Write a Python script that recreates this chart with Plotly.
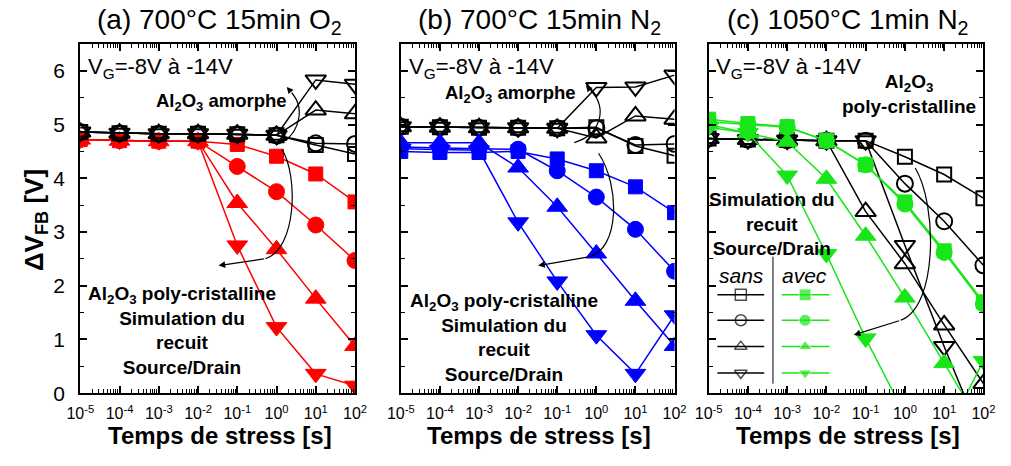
import plotly.graph_objects as go

W, H = 1011, 466

# ---------------- data ----------------
t = [1e-5, 1e-4, 1e-3, 1e-2, 1e-1, 1, 10, 100]
tick_vals = [1e-5, 1e-4, 1e-3, 1e-2, 1e-1, 1, 10, 100]
tick_text = ["10<sup>-5</sup>", "10<sup>-4</sup>", "10<sup>-3</sup>", "10<sup>-2</sup>",
             "10<sup>-1</sup>", "10<sup>0</sup>", "10<sup>1</sup>", "10<sup>2</sup>"]
y_ticks = [0, 1, 2, 3, 4, 5, 6]

panel_titles = ["(a) 700°C 15min O<sub>2</sub>", "(b) 700°C 15min N<sub>2</sub>",
                "(c) 1050°C 1min N<sub>2</sub>"]

# panel (a) 700°C 15min O2
a_sans_sq = [4.86, 4.84, 4.83, 4.83, 4.82, 4.80, 4.62, 4.45]
a_sans_ci = [4.86, 4.84, 4.83, 4.83, 4.82, 4.80, 4.65, 4.64]
a_sans_up = [4.86, 4.84, 4.83, 4.83, 4.82, 4.80, 5.27, 5.20]
a_sans_dn = [4.86, 4.84, 4.83, 4.83, 4.82, 4.80, 5.83, 5.75]
a_avec_sq = [4.72, 4.70, 4.69, 4.69, 4.63, 4.41, 4.08, 3.56]
a_avec_ci = [4.72, 4.70, 4.69, 4.69, 4.22, 3.75, 3.13, 2.47]
a_avec_up = [4.72, 4.70, 4.69, 4.69, 3.54, 2.68, 1.76, 0.88]
a_avec_dn = [4.72, 4.70, 4.69, 4.69, 2.75, 1.23, 0.36, 0.14]

# panel (b) 700°C 15min N2
b_sans_sq = [4.96, 4.95, 4.94, 4.94, 4.93, 4.95, 4.60, 4.42]
b_sans_ci = [4.96, 4.95, 4.94, 4.94, 4.93, 4.93, 4.62, 4.64]
b_sans_up = [4.96, 4.95, 4.94, 4.94, 4.93, 4.75, 5.16, 5.10]
b_sans_dn = [4.96, 4.95, 4.94, 4.94, 4.93, 5.69, 5.70, 5.92]
b_avec_sq = [4.50, 4.48, 4.48, 4.50, 4.36, 4.14, 3.84, 3.36]
b_avec_ci = [4.58, 4.56, 4.55, 4.54, 4.14, 3.65, 3.05, 2.27]
b_avec_up = [4.66, 4.66, 4.66, 4.20, 3.47, 2.60, 1.72, 0.88]
b_avec_dn = [4.55, 4.53, 4.52, 3.18, 2.08, 1.08, 0.36, 1.45]

# panel (c) 1050°C 1min N2
c_sans_sq = [4.74, 4.72, 4.71, 4.70, 4.70, 4.40, 4.07, 3.63]
c_sans_ci = [4.74, 4.72, 4.71, 4.70, 4.70, 3.90, 3.20, 2.38]
c_sans_up = [4.74, 4.72, 4.71, 4.70, 3.38, 2.41, 1.27, 0.18]
c_sans_dn = [4.74, 4.72, 4.71, 4.70, 4.70, 2.75, 0.87, -0.90]
c_avec_sq = [5.10, 5.02, 4.96, 4.70, 4.25, 3.56, 2.65, 1.70]
c_avec_ci = [5.05, 5.00, 4.95, 4.70, 4.25, 3.52, 2.62, 1.66]
c_avec_up = [5.00, 4.84, 4.68, 3.99, 2.93, 1.78, 0.56, -0.66]
c_avec_dn = [4.95, 4.84, 4.05, 2.59, 1.02, -0.40, -0.83, 0.60]

panels = [
    dict(sans=[a_sans_sq, a_sans_ci, a_sans_up, a_sans_dn],
         avec=[a_avec_sq, a_avec_ci, a_avec_up, a_avec_dn], color="#ff0000", avec_first=True),
    dict(sans=[b_sans_sq, b_sans_ci, b_sans_up, b_sans_dn],
         avec=[b_avec_sq, b_avec_ci, b_avec_up, b_avec_dn], color="#0000ff", avec_first=False),
    dict(sans=[c_sans_sq, c_sans_ci, c_sans_up, c_sans_dn],
         avec=[c_avec_sq, c_avec_ci, c_avec_up, c_avec_dn], color="#19e619", avec_first=False),
]
symbols = ["square", "circle", "triangle-up", "triangle-down"]
sizes = [14, 16, 18, 18]

SANS = "Liberation Sans, Arial"

# ---------------- layout geometry ----------------
x_doms = [[68 / W, 350 / W], [397 / W, 678 / W], [713 / W, 995 / W]]
y_dom = [(H - 402.7) / H, (H - 45) / H]

fig = go.Figure()

for i, p in enumerate(panels):
    xa = "x" if i == 0 else f"x{i+1}"
    ya = "y" if i == 0 else f"y{i+1}"

    def add_sans():
        for s, sz, ys in zip(symbols, sizes, p["sans"]):
            fig.add_trace(go.Scatter(
                x=t, y=ys, xaxis=xa, yaxis=ya, mode="lines+markers",
                line=dict(color="black", width=1.5),
                marker=dict(symbol=s + "-open", size=sz, color="black",
                            line=dict(color="black", width=2)),
                showlegend=False, hoverinfo="skip"))

    def add_avec():
        for s, sz, ys in zip(symbols, sizes, p["avec"]):
            fig.add_trace(go.Scatter(
                x=t, y=ys, xaxis=xa, yaxis=ya, mode="lines+markers",
                line=dict(color=p["color"], width=1.5),
                marker=dict(symbol=s, size=sz, color=p["color"],
                            line=dict(color=p["color"], width=1)),
                showlegend=False, hoverinfo="skip"))

    if p["avec_first"]:
        add_avec(); add_sans()
    else:
        add_sans(); add_avec()

minor_x = [m * 10 ** k for k in range(-5, 2) for m in range(2, 10)]

axis_common_x = dict(
    type="log", range=[-5, 2], tickvals=tick_vals, ticktext=tick_text,
    ticks="inside", ticklen=7, tickwidth=1.5, tickcolor="black",
    showline=True, linewidth=2, linecolor="black", mirror="allticks",
    showgrid=False, zeroline=False, ticklabelstandoff=5,
    minor=dict(ticks="inside", ticklen=4, tickwidth=1, tickcolor="black",
               tickvals=minor_x, showgrid=False),
    tickfont=dict(family=SANS, size=16, color="black"),
)
axis_common_y = dict(
    range=[0, 6.5], tickvals=y_ticks, ticks="inside", ticklen=7, tickwidth=1.5,
    tickcolor="black", showline=True, linewidth=2, linecolor="black",
    mirror="allticks", showgrid=False, zeroline=False, ticklabelstandoff=9,
    minor=dict(ticks="inside", ticklen=4, tickwidth=1, tickcolor="black",
               tick0=0, dtick=0.5, showgrid=False),
    tickfont=dict(family=SANS, size=21, color="black"),
)

layout_axes = {}
for i in range(3):
    xk = "xaxis" if i == 0 else f"xaxis{i+1}"
    yk = "yaxis" if i == 0 else f"yaxis{i+1}"
    xa = "x" if i == 0 else f"x{i+1}"
    ya = "y" if i == 0 else f"y{i+1}"
    layout_axes[xk] = dict(axis_common_x, domain=x_doms[i], anchor=ya)
    layout_axes[yk] = dict(axis_common_y, domain=y_dom, anchor=xa,
                           showticklabels=(i == 0))

# overlay pixel axis for decorations
layout_axes["xaxis4"] = dict(domain=[0, 1], range=[0, W], visible=False, anchor="y4",
                             fixedrange=True)
layout_axes["yaxis4"] = dict(domain=[0, 1], range=[H, 0], visible=False, anchor="x4",
                             fixedrange=True)

# legend samples (panel c)
legend_rows = [302, 328, 355, 382]
for s, ry in zip(symbols, legend_rows):
    fig.add_trace(go.Scatter(
        x=[722, 746, 770], y=[ry, ry, ry], xaxis="x4", yaxis="y4",
        mode="lines+markers", line=dict(color="black", width=1.5),
        marker=dict(symbol=[s + "-open"] * 3, size=[0, 11, 0], color="black",
                    line=dict(color="black", width=1.5)),
        showlegend=False, hoverinfo="skip", cliponaxis=False))
    fig.add_trace(go.Scatter(
        x=[788, 812, 837], y=[ry, ry, ry], xaxis="x4", yaxis="y4",
        mode="lines+markers", line=dict(color="#19e619", width=1.5),
        marker=dict(symbol=s, size=[0, 12, 0], color="#19e619"),
        showlegend=False, hoverinfo="skip", cliponaxis=False))

annotations = []
shapes = []

def txt(x, y, text, size=18, family=SANS, bold=False, italic=False, xanchor="center",
        angle=0):
    annotations.append(dict(
        x=x, y=y, xref="x4", yref="y4", text=text, showarrow=False,
        xanchor=xanchor, yanchor="middle", textangle=angle, borderpad=0,
        font=dict(family=family, size=size, color="black",
                  weight="bold" if bold else "normal",
                  style="italic" if italic else "normal")))

# panel titles
for cx, tt in zip([211, 539, 856], panel_titles):
    txt(cx, 22, tt, size=28)
    txt(cx, 446, "Temps de stress [s]", size=24, bold=True)

txt(22, 225, "ΔV<sub>FB</sub> [V]", size=26, bold=True, angle=-90)

for x0 in [75, 404, 720]:
    txt(x0, 70, "V<sub>G</sub>=-8V à -14V", size=22, xanchor="left")

al = "Al<sub>2</sub>O<sub>3</sub>"
txt(213, 104, al + " amorphe", size=18.5, bold=True)
txt(510, 96, al + " amorphe", size=18.5, bold=True)
txt(172, 338, al + " poly-cristalline<br>Simulation du<br>recuit<br>Source/Drain",
    size=19, bold=True)
txt(503, 346, al + " poly-cristalline<br>Simulation du<br>recuit<br>Source/Drain",
    size=19, bold=True)
txt(919, 96, al + "<br>poly-cristalline", size=19, bold=True)
txt(778, 229, "Simulation du<br>recuit<br>Source/Drain", size=19, bold=True)
txt(747, 282, "sans", size=21, italic=True)
txt(811, 282, "avec", size=21, italic=True)

shapes.append(dict(type="line", xref="x4", yref="y4", x0=779, x1=779, y0=263, y1=393,
                   line=dict(color="black", width=1)))

def curve(path):
    shapes.append(dict(type="path", xref="x4", yref="y4", path=path,
                       line=dict(color="black", width=1.2)))

def arrow(x0, y0, x1, y1):
    annotations.append(dict(x=x1, y=y1, ax=x0, ay=y0, xref="x4", yref="y4",
                            axref="x4", ayref="y4", text="", showarrow=True,
                            arrowhead=2, arrowsize=1.1, arrowwidth=1.2,
                            arrowcolor="black"))

# panel a arrows
curve("M 270,148 C 292,140 300,112 285,95")
arrow(285, 95, 280, 89)
curve("M 275,153 C 292,180 290,255 258,265")
arrow(258, 265, 210, 272)
# panel b arrows
curve("M 575,146 C 602,138 610,110 592,93")
arrow(592, 93, 587, 87)
curve("M 600,157 C 622,190 622,255 590,263")
arrow(590, 263, 538, 272)
# panel c arrow
curve("M 925,172 C 948,210 948,315 910,328")
arrow(910, 328, 862, 343)

fig.update_layout(
    width=W, height=H, margin=dict(l=0, r=0, t=0, b=0),
    paper_bgcolor="white", plot_bgcolor="rgba(0,0,0,0)",
    annotations=annotations, shapes=shapes, showlegend=False,
    **layout_axes)

fig.write_html("out.html", config={"displayModeBar": False},
               post_script="document.body.style.margin='0';")
